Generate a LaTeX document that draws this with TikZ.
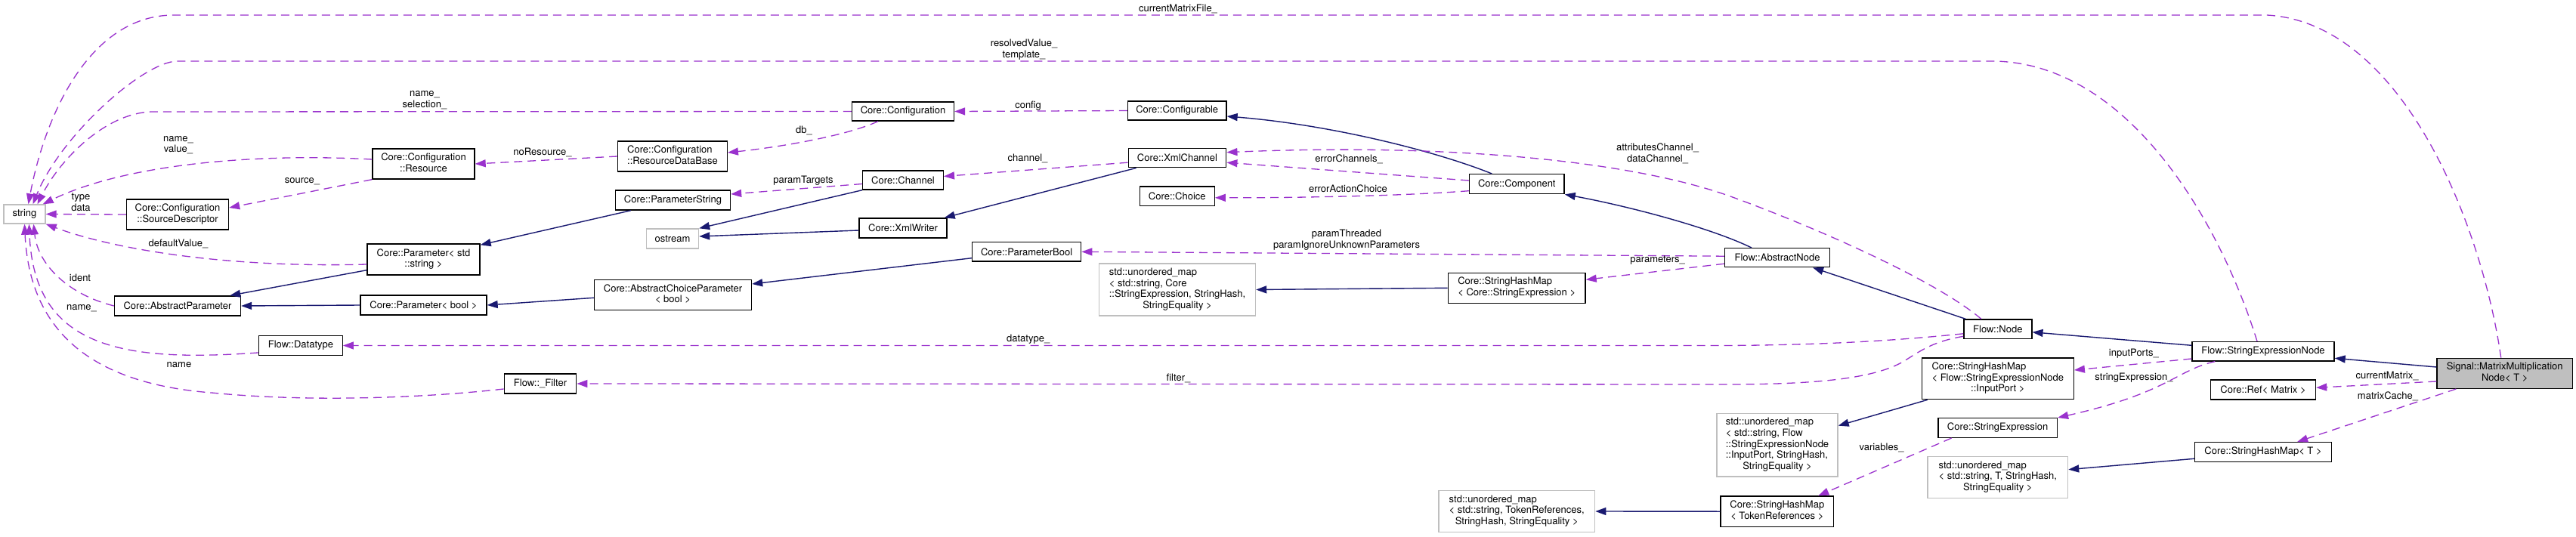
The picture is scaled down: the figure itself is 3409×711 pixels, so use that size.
\documentclass[tikz,border=0pt]{standalone}
\usepackage{fontspec}
\setmainfont{TeX Gyre Heros}
\usetikzlibrary{arrows.meta,calc}
\definecolor{navy}{HTML}{191970}
\definecolor{purp}{HTML}{9A32CD}
\definecolor{grey75}{HTML}{BFBFBF}
\newcommand{\fs}{\fontsize{6.5pt}{7.3pt}\selectfont}
\newcommand{\mlines}[2]{\begin{tabular}{@{}l@{}}#1\\\multicolumn{1}{@{}c@{}}{#2}\end{tabular}}
\tikzset{
  cls/.style={draw=black, line width=0.7pt, fill=white, inner sep=0pt, font=\fs},
  ext/.style={cls, draw=grey75},
  mainn/.style={cls, fill=grey75},
  sz/.style 2 args={minimum width=#1*0.5pt, minimum height=#2*0.5pt},
  inh/.style={draw=navy, line width=0.7pt, -{Triangle[length=7pt,width=5pt]}},
  usg/.style={draw=purp, line width=0.65pt, dash pattern=on 5.5pt off 3.5pt, -{Triangle[length=7pt,width=5pt]}},
  lab/.style={font=\fs, align=center, inner sep=0pt}
}
\begin{document}
\begin{tikzpicture}[x=0.5pt,y=-0.5pt]
\useasboundingbox (0,0) rectangle (3409,711);
\fill[white] (0,0) rectangle (3409,711);
% nodes
\node[ext,sz={55}{25}] (str) at (32.5,283.5) {string};
\node[cls,sz={135}{40}] (srcd) at (235,284) {\mlines{Core::Configuration}{::SourceDescriptor}};
\node[cls,sz={135}{40}] (res) at (560.5,217) {\mlines{Core::Configuration}{::Resource}};
\node[cls,sz={149}{41}] (pstr) at (560.5,343.5) {\mlines{Core::Parameter< std}{::string >}};
\node[cls,sz={167}{26}] (abs) at (235,405) {Core::AbstractParameter};
\node[cls,sz={167}{26}] (pbool) at (560.5,404) {Core::Parameter< bool >};
\node[cls,sz={110.5}{25.5}] (dtype) at (398,457.5) {Flow::Datatype};
\node[cls,sz={144.5}{40}] (rdb) at (890,207) {\mlines{Core::Configuration}{::ResourceDataBase}};
\node[cls,sz={152}{26}] (pstrg) at (890.5,265) {Core::ParameterString};
\node[ext,sz={69}{26}] (ostr) at (890,316) {ostream};
\node[cls,sz={208}{40}] (acp) at (890.5,390.7) {\mlines{Core::AbstractChoiceParameter}{< bool >}};
\node[cls,sz={95.4}{25.7}] (filt) at (715,508) {Flow::\_Filter};
\node[cls,sz={135}{25}] (conf) at (1195,147.5) {Core::Configuration};
\node[cls,sz={106.6}{25}] (chan) at (1195,238.5) {Core::Channel};
\node[cls,sz={116}{26}] (xmlw) at (1195,302) {Core::XmlWriter};
\node[cls,sz={144}{25.5}] (pbl) at (1358.6,333.3) {Core::ParameterBool};
\node[cls,sz={130.5}{25}] (cfgbl) at (1557.7,146.5) {Core::Configurable};
\node[cls,sz={129.4}{25}] (xmlc) at (1558,209.2) {Core::XmlChannel};
\node[cls,sz={98.8}{25.7}] (choice) at (1557.8,259.8) {Core::Choice};
\node[ext,sz={207}{69}] (um1) at (1558,383.5) {\mlines{std::unordered\_map\\< std::string, Core\\::StringExpression, StringHash,}{StringEquality >}};
\node[cls,sz={125.5}{26}] (comp) at (2007.3,243.7) {Core::Component};
\node[cls,sz={181.6}{40}] (shmse) at (2007.2,381.3) {\mlines{Core::StringHashMap}{< Core::StringExpression >}};
\node[ext,sz={206.8}{54.6}] (um3) at (2007.2,677) {\mlines{std::unordered\_map\\< std::string, TokenReferences,}{StringHash, StringEquality >}};
\node[cls,sz={138.7}{25}] (anode) at (2352,341.2) {Flow::AbstractNode};
\node[ext,sz={160}{83.7}] (um2) at (2352,589.2) {\mlines{std::unordered\_map\\< std::string, Flow\\::StringExpressionNode\\::InputPort, StringHash,}{StringEquality >}};
\node[cls,sz={149.5}{40.3}] (shmtr) at (2351.8,677.2) {\mlines{Core::StringHashMap}{< TokenReferences >}};
\node[cls,sz={90}{25.7}] (fnode) at (2643.8,435.8) {Flow::Node};
\node[cls,sz={200.8}{54.7}] (shmip) at (2643.8,501.3) {\mlines{Core::StringHashMap\\< Flow::StringExpressionNode}{::InputPort >}};
\node[cls,sz={157.6}{25.6}] (sexpr) at (2643.6,566.5) {Core::StringExpression};
\node[ext,sz={185.5}{54.6}] (um4) at (2643.8,632) {\mlines{std::unordered\_map\\< std::string, T, StringHash,}{StringEquality >}};
\node[cls,sz={188}{25.3}] (senode) at (2995,465.3) {Flow::StringExpressionNode};
\node[mainn,sz={179.4}{40}] (sig) at (3314.7,494.3) {\mlines{Signal::MatrixMultiplication}{Node< T >}};
\node[cls,sz={139}{26}] (ref) at (2995,516) {Core::Ref< Matrix >};
\node[cls,sz={180.8}{25.6}] (shmt) at (2995,598.5) {Core::StringHashMap< T >};
% inheritance
\draw[inh] ($(pstr.south west)+(0,-7)$) -- ($(abs.north east)+(-15,0)$);
\draw[inh] (pbool.west) -- (abs.east);
\draw[inh] ($(pstrg.south west)+(21,0)$) -- ($(pstr.north east)+(0,2)$);
\draw[inh] ($(acp.west)+(0,3.6)$) -- (pbool.east);
\draw[inh] ($(pbl.west)+(0,8.4)$) -- ($(acp.east)+(0,-14.7)$);
\draw[inh] (chan.south west) -- (ostr.north east);
\draw[inh] ($(xmlw.west)+(0,3)$) -- ($(ostr.east)+(0,-3)$);
\draw[inh] ($(xmlc.south west)+(11,0)$) -- ($(xmlw.north east)+(-4,0)$);
\draw[inh] ($(comp.north)+(-33,0)$) .. controls (1900,200) and (1760,165) .. ($(cfgbl.east)+(0,7.5)$);
\draw[inh] ($(anode.north west)+(36,0)$) .. controls (2260,300) and (2150,272) .. (comp.south east);
\draw[inh] ($(fnode.north west)+(3,0)$) -- ($(anode.south east)+(-23,0)$);
\draw[inh] ($(senode.west)+(0,-8)$) -- ($(fnode.east)+(0,4)$);
\draw[inh] ($(sig.west)+(0,-8.3)$) -- ($(senode.east)+(0,9)$);
\draw[inh] (shmse.west) -- (um1.east);
\draw[inh] ($(shmip.south west)+(8,0)$) -- ($(um2.north east)+(0,17)$);
\draw[inh] (shmtr.west) -- (um3.east);
\draw[inh] ($(shmt.west)+(0,8.8)$) -- ($(um4.east)+(0,-10.3)$);
% usage
\draw[usg] ($(sig.north)+(-5,0)$) .. controls (3285,300) and (3180,30) .. (3000,20) -- (230,20) .. controls (120,20) and (60,150) .. ($(str.north)+(5,0)$);
\draw[usg] ($(senode.north)+(-8,0)$) .. controls (2940,300) and (2820,85) .. (2640,81) -- (235,81) .. controls (190,81) and (80,180) .. ($(str.north)+(11,0)$);
\draw[usg] (conf.west) -- (200,148) .. controls (140,150) and (80,210) .. ($(str.north)+(17,0)$);
\draw[usg] ($(res.west)+(0,-6)$) .. controls (350,203) and (170,215) .. ($(str.north east)+(-4,0)$);
\draw[usg] (res.south west) -- ($(srcd.east)+(0,-9)$);
\draw[usg] (srcd.west) -- (str.east);
\draw[usg] ($(pstr.west)+(0,6.5)$) .. controls (300,355) and (150,330) .. (str.south east);
\draw[usg] (abs.west) .. controls (90,390) and (50,350) .. ($(str.south)+(12,0)$);
\draw[usg] ($(dtype.south west)+(0,-4)$) .. controls (160,480) and (45,460) .. ($(str.south)+(6,0)$);
\draw[usg] ($(filt.west)+(0,7)$) .. controls (550,528) and (400,532) .. (280,520) .. controls (150,510) and (40,460) .. (str.south);
\draw[usg] (cfgbl.west) -- (conf.east);
\draw[usg] ($(conf.south west)+(35,0)$) .. controls (1120,180) and (1030,195) .. ($(rdb.east)+(0,-5)$);
\draw[usg] (rdb.west) -- (res.east);
\draw[usg] ($(chan.west)+(0,5)$) -- ($(pstrg.east)+(0,-8)$);
\draw[usg] ($(xmlc.west)+(0,6)$) -- ($(chan.east)+(0,-5)$);
\draw[usg] ($(fnode.north)+(-22,0)$) .. controls (2560,370) and (2400,300) .. (2290,260) .. controls (2150,210) and (1900,190) .. ($(xmlc.east)+(0,-7.5)$);
\draw[usg] ($(comp.west)+(0,-4.7)$) -- ($(xmlc.east)+(0,6)$);
\draw[usg] ($(comp.west)+(0,9)$) .. controls (1850,260) and (1700,262) .. ($(choice.east)+(0,2)$);
\draw[usg] ($(anode.west)+(0,-2)$) -- (pbl.east);
\draw[usg] ($(anode.west)+(0,8)$) -- ($(shmse.east)+(0,-11)$);
\draw[usg] ($(fnode.west)+(0,6)$) .. controls (2500,452) and (2400,457) .. (2280,457.5) -- (dtype.east);
\draw[usg] ($(fnode.west)+(0,9.5)$) .. controls (2560,452) and (2545,462) .. (2520,478) .. controls (2480,502) and (2400,509) .. (2280,509) -- (filt.east);
\draw[usg] ($(senode.west)+(0,9.7)$) -- ($(shmip.east)+(0,-11.3)$);
\draw[usg] ($(senode.south west)+(31,0)$) .. controls (2880,490) and (2870,520) .. (sexpr.north east);
\draw[usg] ($(sexpr.south west)+(18.5,0)$) -- ($(shmtr.north east)+(-21,0)$);
\draw[usg] ($(sig.west)+(0,10.7)$) -- ($(ref.east)+(0,-2.7)$);
\draw[usg] ($(sig.south west)+(26,0)$) -- ($(shmt.north east)+(-46,0)$);
% labels
\node[lab] (l1) at (1559,12) {currentMatrixFile\_};
\node[lab] (l2) at (1355,65.5) {resolvedValue\_\\template\_};
\node[lab] (l3) at (562,132.5) {name\_\\selection\_};
\node[lab] (l4) at (236,192) {name\_\\value\_};
\node[lab] (l5) at (400,240) {source\_};
\node[lab] (l6) at (107,268) {type\\data};
\node[lab] (l7) at (236,323) {defaultValue\_};
\node[lab] (l8) at (106,368.3) {ident};
\node[lab] (l9) at (108,407.7) {name\_};
\node[lab] (l10) at (237,482.7) {name};
\node[lab] (l11) at (1360.6,140) {config};
\node[lab] (l12) at (1064,172.7) {db\_};
\node[lab] (l13) at (718,202.3) {noResource\_};
\node[lab] (l14) at (1063,238.7) {paramTargets};
\node[lab] (l15) at (1360,210.3) {channel\_};
\node[lab] (l16) at (2193.5,203) {attributesChannel\_\\dataChannel\_};
\node[lab] (l17) at (1785,210.7) {errorChannels\_};
\node[lab] (l18) at (1784,250) {errorActionChoice};
\node[lab] (l19) at (1782,317.8) {paramThreaded\\paramIgnoreUnknownParameters};
\node[lab] (l20) at (2193.6,344.3) {parameters\_};
\node[lab] (l21) at (1360.7,448.7) {datatype\_};
\node[lab] (l22) at (1559.5,500.7) {filter\_};
\node[lab] (l23) at (2823.8,468.3) {inputPorts\_};
\node[lab] (l24) at (2824,500) {stringExpression\_};
\node[lab] (l25) at (2490,592.7) {variables\_};
\node[lab] (l26) at (3159,498.3) {currentMatrix\_};
\node[lab] (l27) at (3160,524.3) {matrixCache\_};
\end{tikzpicture}
\end{document}
